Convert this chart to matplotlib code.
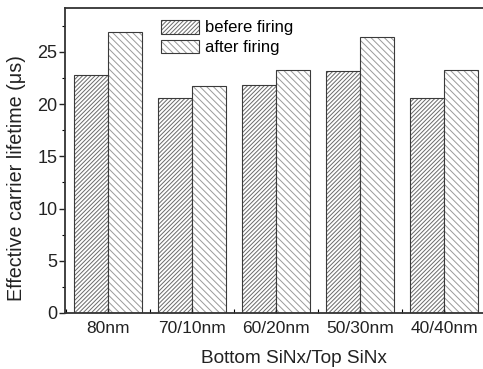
import matplotlib
matplotlib.use("Agg")
import numpy as np
import matplotlib.pyplot as plt
from matplotlib.colors import to_rgba
from matplotlib.ticker import MultipleLocator

plt.rcParams['font.family'] = ['Liberation Sans', 'DejaVu Sans']
plt.rcParams['hatch.linewidth'] = 0.7

# data
categories = ['80nm', '70/10nm', '60/20nm', '50/30nm', '40/40nm']
before_firing = [22.8, 20.6, 21.8, 23.2, 20.6]
after_firing = [26.9, 21.7, 23.3, 26.4, 23.3]

fig = plt.figure(figsize=(4.83, 3.69), dpi=100)
ax = fig.add_axes([0.1346, 0.1518, 0.872, 0.8265])

x = np.arange(1, len(categories) + 1)
w = 0.405
b1 = ax.bar(x - w / 2, before_firing, w, facecolor='white', edgecolor='#3a3a3a',
            linewidth=0.8, hatch='////////', label='befere firing')
b2 = ax.bar(x + w / 2, after_firing, w, facecolor='white', edgecolor='#3a3a3a',
            linewidth=0.8, hatch='\\\\\\\\\\', label='after firing')
# lighter hatch lines than the bar outline
for p in b1:
    p._hatch_color = to_rgba('#6a6a6a')
for p in b2:
    p._hatch_color = to_rgba('#9a9a9a')

ax.set_xlim(0.49, 5.5)
ax.set_ylim(0, 29.2)
ax.set_xticks(x)
ax.set_xticklabels(categories)
ax.yaxis.set_major_locator(MultipleLocator(5))
ax.yaxis.set_minor_locator(MultipleLocator(2.5))
ax.xaxis.set_minor_locator(MultipleLocator(0.5))
ax.tick_params(axis='y', which='major', labelsize=13, colors='#222222',
               length=4, width=1, pad=1.5)
ax.tick_params(axis='y', which='minor', length=2.5, width=0.8)
ax.tick_params(axis='x', which='major', labelsize=12.5, colors='#222222',
               direction='in', length=3, width=1, pad=6)
ax.tick_params(axis='x', which='minor', length=3, width=0.8, direction='in')

for s in ax.spines.values():
    s.set_linewidth(1.3)
    s.set_color('#333333')

ax.set_xlabel('Bottom SiNx/Top SiNx', fontsize=13.7, color='#222222')
ax.set_ylabel('Effective carrier lifetime (\u03bcs)', fontsize=14.2,
              color='#222222')
ax.xaxis.set_label_coords(0.544, -0.12)
ax.yaxis.set_label_coords(-0.092, 0.443)

ax.legend(loc='upper left', bbox_to_anchor=(0.2, 1.0), frameon=False,
          fontsize=12, handlelength=2.3, handleheight=0.9, labelspacing=0.25,
          handletextpad=0.35, borderaxespad=0.3)

plt.savefig('out.png', dpi=100)
